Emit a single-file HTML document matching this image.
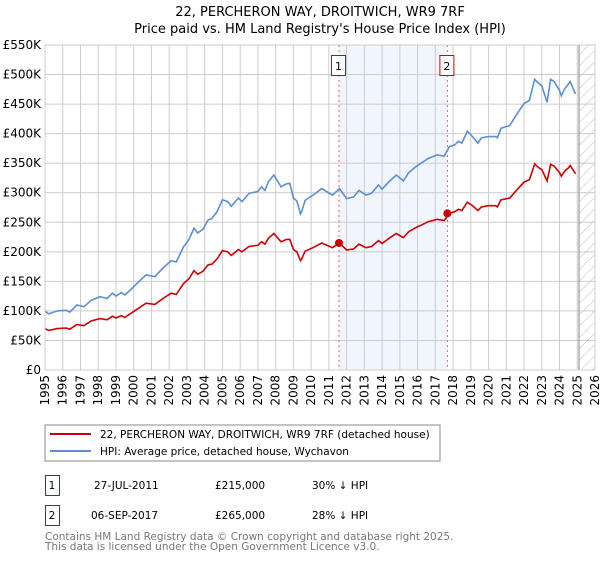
<!DOCTYPE html>
<html><head><meta charset="utf-8"><style>
body{margin:0;background:#fff;font-family:"DejaVu Sans","Liberation Sans",sans-serif;}
svg text{font-family:"DejaVu Sans","Liberation Sans",sans-serif;}
</style></head><body>
<svg id="c" width="600" height="560" xmlns="http://www.w3.org/2000/svg">
<text x="320" y="16" text-anchor="middle" font-size="13">22, PERCHERON WAY, DROITWICH, WR9 7RF</text>
<text x="320" y="33" text-anchor="middle" font-size="13">Price paid vs. HM Land Registry's House Price Index (HPI)</text>
<g id="plot"></g>
<rect x="45" y="425" width="395" height="36" fill="#fff" stroke="#888"/>
<line x1="50" y1="434" x2="91" y2="434" stroke="#cc0000" stroke-width="2"/>
<text x="100" y="438" font-size="10.5">22, PERCHERON WAY, DROITWICH, WR9 7RF (detached house)</text>
<line x1="50" y1="451" x2="91" y2="451" stroke="#5b8fd0" stroke-width="2"/>
<text x="100" y="455" font-size="10.5">HPI: Average price, detached house, Wychavon</text>
<g font-size="10.5">
<rect x="45.5" y="475.5" width="14" height="20" fill="none" stroke="#cc0000"/>
<text x="52" y="489" text-anchor="middle">1</text>
<text x="94" y="489">27-JUL-2011</text><text x="215" y="489">£215,000</text><text x="312" y="489">30% ↓ HPI</text>
<rect x="45.5" y="505.5" width="14" height="20" fill="none" stroke="#cc0000"/>
<text x="52" y="519" text-anchor="middle">2</text>
<text x="91" y="519">06-SEP-2017</text><text x="215" y="519">£265,000</text><text x="312" y="519">28% ↓ HPI</text>
</g>
<text x="45" y="540" font-size="10.5" fill="#777">Contains HM Land Registry data © Crown copyright and database right 2025.</text>
<text x="45" y="550" font-size="10.5" fill="#777">This data is licensed under the Open Government Licence v3.0.</text>
</svg>
<script>
const years=[1995.0,1995.2,1995.7,1996.2,1996.4,1996.8,1997.2,1997.6,1998.1,1998.5,1998.8,1999.0,1999.3,1999.5,1999.9,2000.2,2000.7,2001.2,2001.6,2002.1,2002.4,2002.8,2003.1,2003.4,2003.6,2003.9,2004.2,2004.4,2004.7,2005.0,2005.3,2005.5,2005.9,2006.1,2006.5,2007.0,2007.2,2007.4,2007.6,2007.9,2008.3,2008.6,2008.8,2009.0,2009.2,2009.4,2009.47,2009.66,2010.1,2010.6,2011.2,2011.6,2012.0,2012.4,2012.7,2013.1,2013.4,2013.8,2014.0,2014.4,2014.8,2015.2,2015.5,2015.9,2016.2,2016.6,2017.1,2017.5,2017.8,2018.1,2018.3,2018.5,2018.8,2019.1,2019.4,2019.6,2020.0,2020.4,2020.5,2020.7,2021.2,2021.6,2022.0,2022.3,2022.6,2022.8,2023.0,2023.3,2023.5,2023.7,2024.0,2024.1,2024.3,2024.5,2024.6,2024.9];
const hpiValues=[100,95,100,101,98,110,107,118,124,121,130,125,131,127,138,147,161,158,171,185,183,208,220,240,232,238,254,256,268,288,285,277,291,285,299,302,310,304,319,330,310,315,316,291,286,264,268,287,296,307,296,307,290,293,304,296,299,313,306,319,330,320,334,344,350,358,364,362,378,381,387,384,404,395,384,393,395,395,393,409,414,433,451,456,492,486,481,453,492,488,473,464,476,484,488,467];
const propertyValues=[70,67,70,71,69,77,75,83,87,85,91,88,92,89,97,103,113,111,120,130,128,146,154,168,162,167,178,179,188,202,200,194,204,200,209,211,217,213,223,231,217,221,221,204,200,185,188,201,207,215,207,215,203,205,213,207,209,219,214,223,231,224,234,241,245,251,255,253,265,268,272,270,284,278,270,276,278,278,276,288,291,305,318,322,349,343,339,320,348,345,334,328,337,342,346,332];
const saleYears=[2011.57,2017.68];
const salePrices=[215,265];
const saleLabels=["1","2"];
const yTicks=[0,50,100,150,200,250,300,350,400,450,500,550];
const yTickLabels=["£0","£50K","£100K","£150K","£200K","£250K","£300K","£350K","£400K","£450K","£500K","£550K"];
const xTicks=[1995,1996,1997,1998,1999,2000,2001,2002,2003,2004,2005,2006,2007,2008,2009,2010,2011,2012,2013,2014,2015,2016,2017,2018,2019,2020,2021,2022,2023,2024,2025,2026];
const dataEnd=2025.1;

const L=45,R=595,T=45,B=370,X0=1995,X1=2026,YMAX=550;
const xs=v=>L+(v-X0)/(X1-X0)*(R-L);
const ys=v=>B-v/YMAX*(B-T);
const NS="http://www.w3.org/2000/svg";
const g=document.getElementById('plot');
function mk(tag,attrs,parent){const e=document.createElementNS(NS,tag);for(const k in attrs)e.setAttribute(k,attrs[k]);(parent||g).appendChild(e);return e;}

let band=mk('rect',{x:xs(saleYears[0]),y:T,width:xs(saleYears[1])-xs(saleYears[0]),height:B-T,fill:'#eef3fc',opacity:0.8});


const defs=mk('defs',{});
const pat=mk('pattern',{id:'hatch',width:8,height:8,patternUnits:'userSpaceOnUse',patternTransform:'rotate(45)'},defs);
mk('line',{x1:0,y1:0,x2:0,y2:8,stroke:'#bbb','stroke-width':1},pat);
let hr=mk('rect',{x:xs(dataEnd),y:T,width:R-xs(dataEnd),height:B-T,fill:'url(#hatch)'});


yTicks.forEach((v,i)=>{
  const l=mk('line',{x1:L,x2:R,y1:ys(v),y2:ys(v),stroke:'#ccc','stroke-width':1});
  
  
  const t=mk('text',{x:L-4,y:ys(v)+4,'text-anchor':'end','font-size':12});
  t.textContent=yTickLabels[i];
  
  
});
xTicks.forEach(v=>{
  const l=mk('line',{x1:xs(v),x2:xs(v),y1:T,y2:B,stroke:'#ccc','stroke-width':1});
  
  
  const t=mk('text',{x:0,y:0,'text-anchor':'end','font-size':12,transform:`translate(${xs(v)+4},${B+5}) rotate(-90)`});
  t.textContent=v;
  
  
});
let de=mk('line',{x1:xs(dataEnd),x2:xs(dataEnd),y1:T,y2:B,stroke:'#999','stroke-width':1.2});


saleYears.forEach((v,i)=>{
  const l=mk('line',{x1:xs(v),x2:xs(v),y1:T,y2:B,stroke:'#f06060','stroke-width':1,'stroke-dasharray':'2,3'});
  
  
  const r=mk('rect',{x:xs(v)-7.5,y:55.5,width:14,height:20,fill:'#fff',stroke:'#cc0000'});
  
  
  const t=mk('text',{x:xs(v)-0.5,y:70,'text-anchor':'middle','font-size':11});
  t.textContent=saleLabels[i];
  
  
});
const path=vals=>years.map((y,i)=>(i?'L':'M')+xs(y).toFixed(1)+','+ys(vals[i]).toFixed(1)).join('');
let hp=mk('path',{d:path(hpiValues),fill:'none',stroke:'#5b8fd0','stroke-width':1.6});


let pp=mk('path',{d:path(propertyValues),fill:'none',stroke:'#cc0000','stroke-width':1.6});


saleYears.forEach((v,i)=>{
  const c=mk('circle',{cx:xs(v),cy:ys(salePrices[i]),r:4,fill:'#cc0000'});
  
  
});
let fr=mk('rect',{x:L,y:T,width:R-L,height:B-T,fill:'none',stroke:'#ccc'});


</script>
</body></html>
